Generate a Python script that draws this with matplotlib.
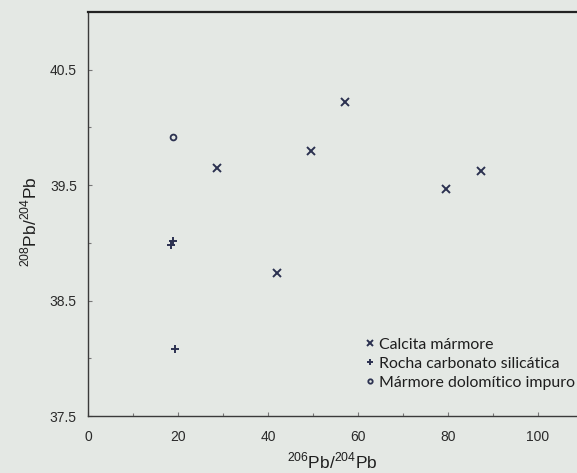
import matplotlib
matplotlib.use("Agg")
import matplotlib.pyplot as plt
from matplotlib.ticker import MultipleLocator, FixedLocator

# razões isotópicas de Pb por tipo de rocha
calcita_x = [28.7, 42.0, 49.6, 57.1, 79.6, 87.3]
calcita_y = [39.65, 38.74, 39.80, 40.22, 39.47, 39.62]
rocha_x = [18.4, 19.0, 19.3]
rocha_y = [38.98, 39.02, 38.08]
dolom_x = [18.9]
dolom_y = [39.92]

labels = ["Calcita mármore", "Rocha carbonato silicática", "Mármore dolomítico impuro"]
x_ticks = [0, 20, 40, 60, 80, 100]
y_ticks = [37.5, 38.5, 39.5, 40.5]

paper = "#e4e8e4"
ink = "#2b3150"
axis_col = "#3a3a3a"

plt.rcParams["font.family"] = ["Liberation Sans", "DejaVu Sans"]
plt.rcParams["mathtext.fontset"] = "custom"
plt.rcParams["mathtext.rm"] = "Liberation Sans"

fig = plt.figure(figsize=(5.77, 4.73), dpi=100, facecolor=paper)
ax = fig.add_axes([0.1525, 0.1205, 0.8475, 0.8541])
ax.set_facecolor(paper)

ax.plot(calcita_x, calcita_y, "x", ms=5.5, mew=1.4, color=ink, label=labels[0])
ax.plot(rocha_x, rocha_y, "+", ms=6, mew=1.4, color=ink, label=labels[1])
ax.plot(dolom_x, dolom_y, "o", ms=4.2, mew=1.3, mfc="none", color=ink, label=labels[2])

ax.set_xlim(0, 108.7)
ax.set_ylim(37.5, 41.0)
ax.xaxis.set_major_locator(FixedLocator(x_ticks))
ax.xaxis.set_minor_locator(MultipleLocator(10))
ax.yaxis.set_major_locator(FixedLocator(y_ticks))
ax.yaxis.set_minor_locator(FixedLocator([38.0, 39.0, 40.0]))
ax.tick_params(which="both", direction="in", color="#777777", width=0.8,
               labelsize=10, labelcolor="#2a2a2a")
ax.tick_params(which="major", length=3)
ax.tick_params(which="minor", length=2.5)
ax.tick_params(axis="x", pad=10)
ax.tick_params(axis="y", pad=8)

for side in ["left", "bottom", "top"]:
    ax.spines[side].set_color(axis_col)
    ax.spines[side].set_linewidth(1.0)
ax.spines["top"].set_linewidth(1.6)
ax.spines["top"].set_color("#222222")
ax.spines["right"].set_visible(False)

ax.set_xlabel(r"$^{206}$Pb/$^{204}$Pb", fontsize=12.5, color="#1e1e1e", labelpad=5)
ax.set_ylabel(r"$^{208}$Pb/$^{204}$Pb", fontsize=12.5, color="#1e1e1e")
ax.yaxis.set_label_coords(-0.1, 0.48)

leg = ax.legend(loc="upper left", bbox_to_anchor=(357 / 577, 1 - 330 / 473),
                bbox_transform=fig.transFigure, frameon=False,
                prop={"family": "Lato", "size": 11.4}, handlelength=0.6,
                handletextpad=0.3, labelspacing=0.3, borderpad=0,
                markerscale=0.75)
for t in leg.get_texts():
    t.set_color("#1e1e1e")

fig.savefig("out.png", dpi=100, facecolor=paper)
